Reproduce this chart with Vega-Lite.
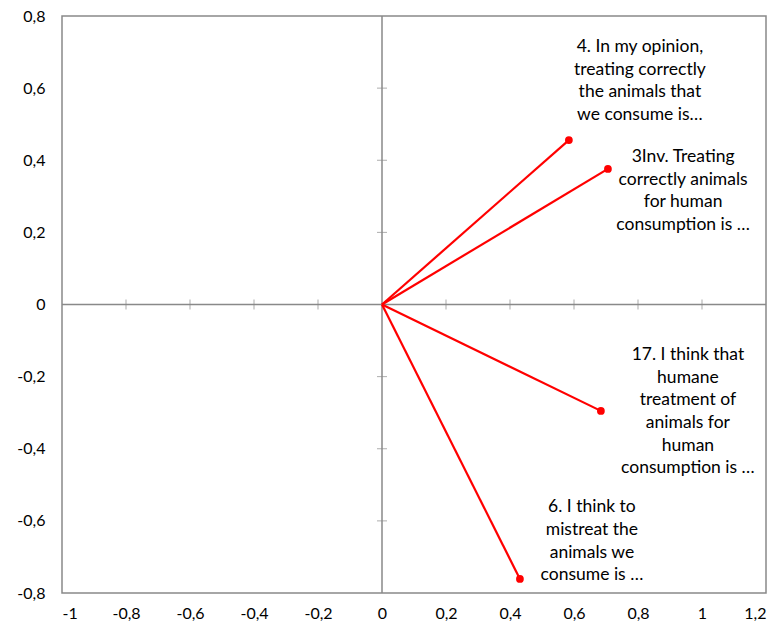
{
  "$schema": "https://vega.github.io/schema/vega-lite/v6.json",
  "autosize": "none",
  "padding": {"left": 62, "top": 16, "right": 15, "bottom": 35},
  "width": 704,
  "height": 577,
  "background": "white",
  "config": {
    "view": {"stroke": "#898989", "strokeWidth": 1.5},
    "font": "Lato",
    "axis": {"grid": false, "domain": false, "ticks": false, "labelFont": "Lato", "labelFontSize": 16, "labelColor": "#000000", "title": null}
  },
  "datasets": {
    "items": [
      {"item": "4", "x": 0.584, "y": 0.456, "lx": 0.806, "ly": 0.714, "label": "4. In my opinion,\ntreating correctly\nthe animals that\nwe consume is…"},
      {"item": "3Inv", "x": 0.706, "y": 0.376, "lx": 0.941, "ly": 0.409, "label": "3Inv. Treating\ncorrectly animals\nfor human\nconsumption is …"},
      {"item": "17", "x": 0.684, "y": -0.295, "lx": 0.956, "ly": -0.140, "label": "17. I think that\nhumane\ntreatment of\nanimals for\nhuman\nconsumption is …"},
      {"item": "6", "x": 0.431, "y": -0.761, "lx": 0.656, "ly": -0.562, "label": "6. I think to\nmistreat the\nanimals we\nconsume is …"}
    ],
    "xticks": [{"v": -0.8}, {"v": -0.6}, {"v": -0.4}, {"v": -0.2}, {"v": 0.2}, {"v": 0.4}, {"v": 0.6}, {"v": 0.8}, {"v": 1.0}],
    "yticks": [{"v": -0.6}, {"v": -0.4}, {"v": -0.2}, {"v": 0.2}, {"v": 0.4}, {"v": 0.6}]
  },
  "layer": [
    {
      "data": {"values": [{"z": 0}]},
      "mark": {"type": "rule", "color": "#898989", "strokeWidth": 1.5},
      "encoding": {
        "x": {"field": "z", "type": "quantitative", "scale": {"domain": [-1, 1.2], "nice": false, "zero": false},
          "axis": {"values": [-1, -0.8, -0.6, -0.4, -0.2, 0, 0.2, 0.4, 0.6, 0.8, 1, 1.2], "labelPadding": 12,
            "labelExpr": "replace(toString(datum.value), '.', ',')"}}
      }
    },
    {
      "data": {"values": [{"z": 0}]},
      "mark": {"type": "rule", "color": "#898989", "strokeWidth": 1.5},
      "encoding": {
        "y": {"field": "z", "type": "quantitative", "scale": {"domain": [-0.8, 0.8], "nice": false, "zero": false},
          "axis": {"values": [-0.8, -0.6, -0.4, -0.2, 0, 0.2, 0.4, 0.6, 0.8], "labelPadding": 17,
            "labelExpr": "replace(toString(datum.value), '.', ',')"}}
      }
    },
    {
      "data": {"name": "xticks"},
      "mark": {"type": "tick", "orient": "vertical", "color": "#898989", "size": 10, "thickness": 1},
      "encoding": {
        "x": {"field": "v", "type": "quantitative"},
        "y": {"datum": 0, "type": "quantitative"}
      }
    },
    {
      "data": {"name": "yticks"},
      "mark": {"type": "tick", "orient": "horizontal", "color": "#898989", "size": 10, "thickness": 1},
      "encoding": {
        "y": {"field": "v", "type": "quantitative"},
        "x": {"datum": 0, "type": "quantitative"}
      }
    },
    {
      "data": {"name": "items"},
      "mark": {"type": "rule", "color": "#ff0000", "strokeWidth": 2.2},
      "encoding": {
        "x": {"field": "x", "type": "quantitative"},
        "y": {"field": "y", "type": "quantitative"},
        "x2": {"datum": 0},
        "y2": {"datum": 0}
      }
    },
    {
      "data": {"name": "items"},
      "mark": {"type": "circle", "color": "#ff0000", "opacity": 1, "size": 60},
      "encoding": {
        "x": {"field": "x", "type": "quantitative"},
        "y": {"field": "y", "type": "quantitative"}
      }
    },
    {
      "data": {"name": "items"},
      "mark": {"type": "text", "align": "center", "baseline": "middle", "fontSize": 17.5, "lineHeight": 22.7, "color": "#000000", "lineBreak": "\n"},
      "encoding": {
        "x": {"field": "lx", "type": "quantitative"},
        "y": {"field": "ly", "type": "quantitative"},
        "text": {"field": "label"}
      }
    }
  ]
}
